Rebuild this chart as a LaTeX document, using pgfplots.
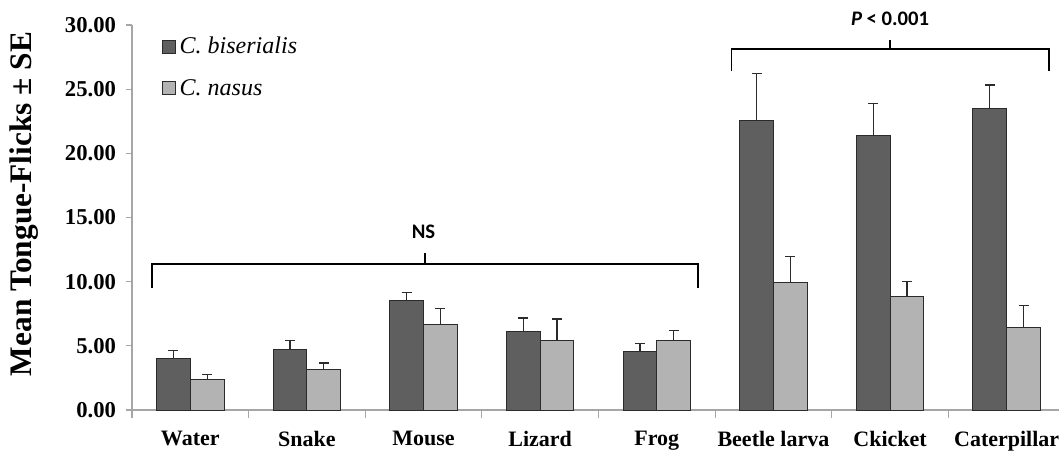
\documentclass[border=0pt]{standalone}
\usepackage{pgfplots}
\pgfplotsset{compat=1.18}
\usepackage{pgfplotstable}
\usepackage{fontspec}
\setmainfont{Liberation Serif}
\newfontfamily\notefont{Carlito}

\definecolor{darkbar}{HTML}{5F5F5F}
\definecolor{lightbar}{HTML}{B3B3B3}
\definecolor{axisgray}{HTML}{A6A6A6}
\definecolor{edgegray}{HTML}{2B2B2B}

% mean tongue-flicks and standard error per stimulus
\pgfplotstableread{
x  mean   se
0  4.05   0.57
1  4.70   0.73
2  8.55   0.62
3  6.13   1.04
4  4.52   0.65
5  22.55  3.69
6  21.36  2.54
7  23.46  1.87
}\biserialis

\pgfplotstableread{
x  mean   se
0  2.39   0.36
1  3.12   0.54
2  6.68   1.22
3  5.43   1.66
4  5.40   0.81
5  9.95   2.00
6  8.86   1.14
7  6.44   1.69
}\nasus

\begin{document}
\begin{tikzpicture}
\begin{axis}[
  scale only axis,
  width=699.75pt, height=288.75pt,
  xmin=-0.5, xmax=7.5, ymin=0, ymax=30,
  clip=false,
  axis x line*=bottom, axis y line*=left,
  axis line style={axisgray, line width=0.8pt},
  ybar=0pt, bar width=0.289,
  xtick={0,...,7},
  xticklabels={Water,Snake,Mouse,Lizard,Frog,Beetle larva,Ckicket,Caterpillar},
  major x tick style={draw=none},
  minor xtick={-0.5,0.5,...,7.5},
  minor tick style={axisgray, line width=0.8pt},
  minor tick length=6pt,
  major tick length=4.5pt,
  tick align=outside,
  ytick={0,5,...,30},
  ytick style={axisgray, line width=0.8pt},
  yticklabel style={font=\bfseries\fontsize{17}{20}\selectfont, xshift=-4pt},
  xticklabel style={font=\bfseries\fontsize{16.5}{19}\selectfont, yshift=-8pt},
  /pgf/number format/.cd, fixed, fixed zerofill, precision=2, assume math mode=true,
  /pgfplots/.cd,
  legend image code/.code={\draw[#1, draw=edgegray, line width=0.6pt] (0pt,-5pt) rectangle (10pt,5pt);},
  legend style={at={(axis description cs:0,1)}, anchor=north west,
    xshift=19pt, yshift=-5pt, draw=none, fill=none, row sep=13.5pt,
    font=\itshape\fontsize{18}{20}\selectfont,
    nodes={inner xsep=3pt}},
  legend cell align=left,
]
\addplot[fill=darkbar, draw=edgegray, line width=0.75pt,
  error bars/.cd, y dir=plus, y explicit,
  error bar style={line width=0.9pt, color=edgegray},
  error mark options={rotate=90, mark size=3.75pt, line width=0.9pt, color=edgegray}]
  table[x=x, y=mean, y error=se] {\biserialis};
\addlegendentry{C. biserialis}
\addplot[fill=lightbar, draw=edgegray, line width=0.75pt,
  error bars/.cd, y dir=plus, y explicit,
  error bar style={line width=0.9pt, color=edgegray},
  error mark options={rotate=90, mark size=3.75pt, line width=0.9pt, color=edgegray}]
  table[x=x, y=mean, y error=se] {\nasus};
\addlegendentry{C. nasus}

% significance brackets
\draw[black, line width=1.4pt] (axis cs:-0.33,9.5) -- (axis cs:-0.33,11.36) -- (axis cs:4.35,11.36) -- (axis cs:4.35,9.5);
\draw[black, line width=1.4pt] (axis cs:2.01,11.36) -- (axis cs:2.01,12.2);
\node[font=\notefont\bfseries\fontsize{15.5}{18}\selectfont] at (axis cs:2.0,13.85) {NS};
\draw[black, line width=1.4pt] (axis cs:4.64,26.45) -- (axis cs:4.64,28.1) -- (axis cs:7.365,28.1) -- (axis cs:7.365,26.45);
\draw[black, line width=1.4pt] (axis cs:6.0,28.1) -- (axis cs:6.0,28.84);
\node[font=\notefont\bfseries\fontsize{15.5}{18}\selectfont] at (axis cs:6.0,30.45) {\textit{P} < 0.001};

\node[rotate=90, font=\bfseries\fontsize{23.5}{27}\selectfont] at ([xshift=-81pt]rel axis cs:0,0.535) {Mean Tongue-Flicks ± SE};
\end{axis}
\pgfresetboundingbox
\path[use as bounding box] (-99pt,-33pt) rectangle (695.25pt,307.5pt);
\end{tikzpicture}
\end{document}
